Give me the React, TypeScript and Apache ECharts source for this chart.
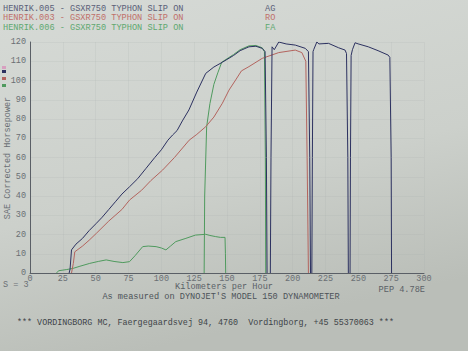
import React, { useEffect, useRef } from "react";
import * as echarts from "echarts";

const xTicks = [0, 25, 50, 75, 100, 125, 150, 175, 200, 225, 250, 275, 300];
const yTicks = [0, 10, 20, 30, 40, 50, 60, 70, 80, 90, 100, 110, 120];

// HENRIK.005 (AG) – four runs
const blueRun1: [number, number][] = [
  [29.8, 0], [30.5, 2], [31.6, 12], [35, 15], [40, 18], [45, 22], [50.5, 25.8], [55, 29], [60, 33],
  [65, 37], [70, 41], [75.8, 44.8], [82, 49], [88.4, 54.4], [95, 60], [100, 64], [105, 69],
  [108.6, 71.7], [112, 74], [116, 79], [121, 84.7], [127, 94], [133.8, 103.7], [140, 107],
  [146.5, 109.5], [155, 113], [160, 115.5], [166.7, 117.5], [172, 117.8], [176.8, 116.7],
  [179, 115], [180, 60], [180.5, 0],
];
const blueRun2: [number, number][] = [
  [183, 0], [183.5, 60], [184.3, 117.5], [186, 116], [189.4, 120], [195, 119], [202, 118.4],
  [209.6, 116.7], [212, 115], [213, 60], [213.6, 0],
];
const blueRun3: [number, number][] = [
  [214.6, 0], [215, 60], [215.5, 115], [216, 116], [218.4, 120], [220, 119], [227.3, 119.3],
  [235, 117], [239.9, 115.8], [241, 114], [242, 60], [242.4, 0],
];
const blueRun4: [number, number][] = [
  [243.7, 0], [244, 60], [244.5, 113], [245.5, 116], [247.5, 119.6], [250, 119], [257.6, 117.5],
  [265, 115.5], [272.7, 113.2], [274, 112], [275, 60], [275.3, 0],
];

// HENRIK.003 (RO)
const redRun: [number, number][] = [
  [31.6, 0], [33, 5], [34.1, 11], [40, 14], [45, 17], [50.5, 20.6], [60, 27], [70, 33],
  [75.8, 37.9], [85, 43], [92, 48], [101, 53.5], [110, 60], [121.2, 69], [127, 72], [133.8, 76],
  [140, 81], [146.5, 88.2], [151.5, 95], [156.6, 100.3], [161, 105], [166.7, 107.2],
  [176.8, 111.5], [189.4, 114.5], [202, 115.8], [207, 114.5], [210, 110], [211, 60], [212, 0],
];

// HENRIK.006 (FA)
const greenRun1: [number, number][] = [
  [20, 0], [22, 1.2], [28, 1.8], [32.8, 2.4], [38, 3.5], [45.5, 5], [52, 6], [58, 6.8], [64, 6],
  [70.7, 5.4], [75.8, 5.9], [80, 9], [85.8, 13.7], [90, 14], [96, 13.7], [100, 13], [103.5, 12],
  [107, 14], [111, 16.3], [118.7, 18], [126, 19.7], [133.8, 20.1], [137, 19.5], [141.4, 18.9],
  [145, 18.5], [148.5, 18.5], [148.8, 10], [149, 0],
];
const greenRun2: [number, number][] = [
  [132.6, 0], [133, 40], [134.5, 76], [137, 88], [140, 98], [143, 104], [146, 109.5],
  [155, 113.5], [160, 116], [166.7, 118], [172, 118.2], [176.8, 117], [178.5, 115], [179.2, 60],
  [179.5, 0],
];

const BLUE = "#2c3160";
const RED = "#b3645e";
const GREEN = "#4f9a5e";
const MONO = "Liberation Mono";

export default function App() {
  const ref = useRef<HTMLDivElement>(null);
  useEffect(() => {
    if (!ref.current) return;
    const chart = echarts.init(ref.current, undefined, { renderer: "svg" });
    const line = (name: string, data: [number, number][], color: string) => ({
      name,
      type: "line",
      data,
      showSymbol: false,
      symbol: "none",
      lineStyle: { color, width: 1 },
      itemStyle: { color },
    });
    const txt = (x: number, y: number, text: string, fill: string, size = 8.5, align = "left") => ({
      type: "text",
      x,
      y,
      style: { text, fill, font: `${size}px "${MONO}"`, textAlign: align, textVerticalAlign: "middle" },
    });
    chart.setOption({
      animation: false,
      backgroundColor: {
        type: "linear", x: 0, y: 0, x2: 0.3, y2: 1,
        colorStops: [
          { offset: 0, color: "#d6dad6" },
          { offset: 0.6, color: "#ccd0cb" },
          { offset: 1, color: "#babeb8" },
        ],
      },
      grid: { left: 30, right: 44, top: 42, bottom: 78 },
      xAxis: {
        type: "value",
        min: 0,
        max: 300,
        interval: 25,
        axisLine: { lineStyle: { color: "#5a5f66", width: 1 } },
        axisTick: { show: false },
        axisLabel: { color: "#6a6f74", fontFamily: MONO, fontSize: 8.5, margin: 1,
          formatter: (v: number) => (xTicks.includes(v) ? String(v) : "") },
        splitLine: { show: true, lineStyle: { color: "rgba(160,170,170,0.15)", width: 1 } },
      },
      yAxis: {
        type: "value",
        min: 0,
        max: 120,
        interval: 10,
        axisLine: { show: true, lineStyle: { color: "#5a5f66", width: 1 } },
        axisTick: { show: false },
        axisLabel: { color: "#6a6f74", fontFamily: MONO, fontSize: 8.5, margin: 4,
          formatter: (v: number) => (yTicks.includes(v) ? String(v) : "") },
        splitLine: { show: true, lineStyle: { color: "rgba(160,170,170,0.15)", width: 1 } },
      },
      series: [
        line("HENRIK.006 run 1", greenRun1, GREEN),
        line("HENRIK.006 run 2", greenRun2, GREEN),
        line("HENRIK.003", redRun, RED),
        line("HENRIK.005 run 1", blueRun1, BLUE),
        line("HENRIK.005 run 2", blueRun2, BLUE),
        line("HENRIK.005 run 3", blueRun3, BLUE),
        line("HENRIK.005 run 4", blueRun4, BLUE),
      ],
      graphic: [
        txt(3, 9, "HENRIK.005 - GSXR750 TYPHON SLIP ON", "#5a6078", 8.6),
        txt(265, 9, "AG", "#5a6078", 8.6),
        txt(3, 18, "HENRIK.003 - GSXR750 TYPHON SLIP ON", "#c0706a", 8.6),
        txt(265, 18, "RO", "#c0706a", 8.6),
        txt(3, 28, "HENRIK.006 - GSXR750 TYPHON SLIP ON", "#5fa870", 8.6),
        txt(265, 28, "FA", "#5fa870", 8.6),
        { type: "rect", shape: { x: 2, y: 66, width: 4, height: 3 }, style: { fill: "#d8a0c0" } },
        { type: "rect", shape: { x: 2, y: 70, width: 4, height: 3 }, style: { fill: BLUE } },
        { type: "rect", shape: { x: 2, y: 77, width: 4, height: 3 }, style: { fill: RED } },
        { type: "rect", shape: { x: 2, y: 84, width: 4, height: 3 }, style: { fill: GREEN } },
        {
          type: "text",
          x: 8,
          y: 158,
          rotation: Math.PI / 2,
          style: { text: "SAE Corrected Horsepower", fill: "#6a6f74", font: `8.5px "${MONO}"`,
            textAlign: "center", textVerticalAlign: "middle" },
        },
        txt(3, 285, "S = 3", "#6a6f74", 8.5),
        txt(224, 287, "Kilometers per Hour", "#5a5f66", 8.6, "center"),
        txt(425, 290, "PEP 4.78E", "#5a5f66", 8.6, "right"),
        txt(221, 297, "As measured on DYNOJET'S MODEL 150 DYNAMOMETER", "#4c5258", 8.6, "center"),
        txt(17, 323, "*** VORDINGBORG MC, Faergegaardsvej 94, 4760  Vordingborg, +45 55370063 ***", "#3e4448", 8.4),
      ],
    });
    return () => chart.dispose();
  }, []);
  return <div ref={ref} style={{ position: "fixed", left: 0, top: 0, width: 468, height: 351 }} />;
}
